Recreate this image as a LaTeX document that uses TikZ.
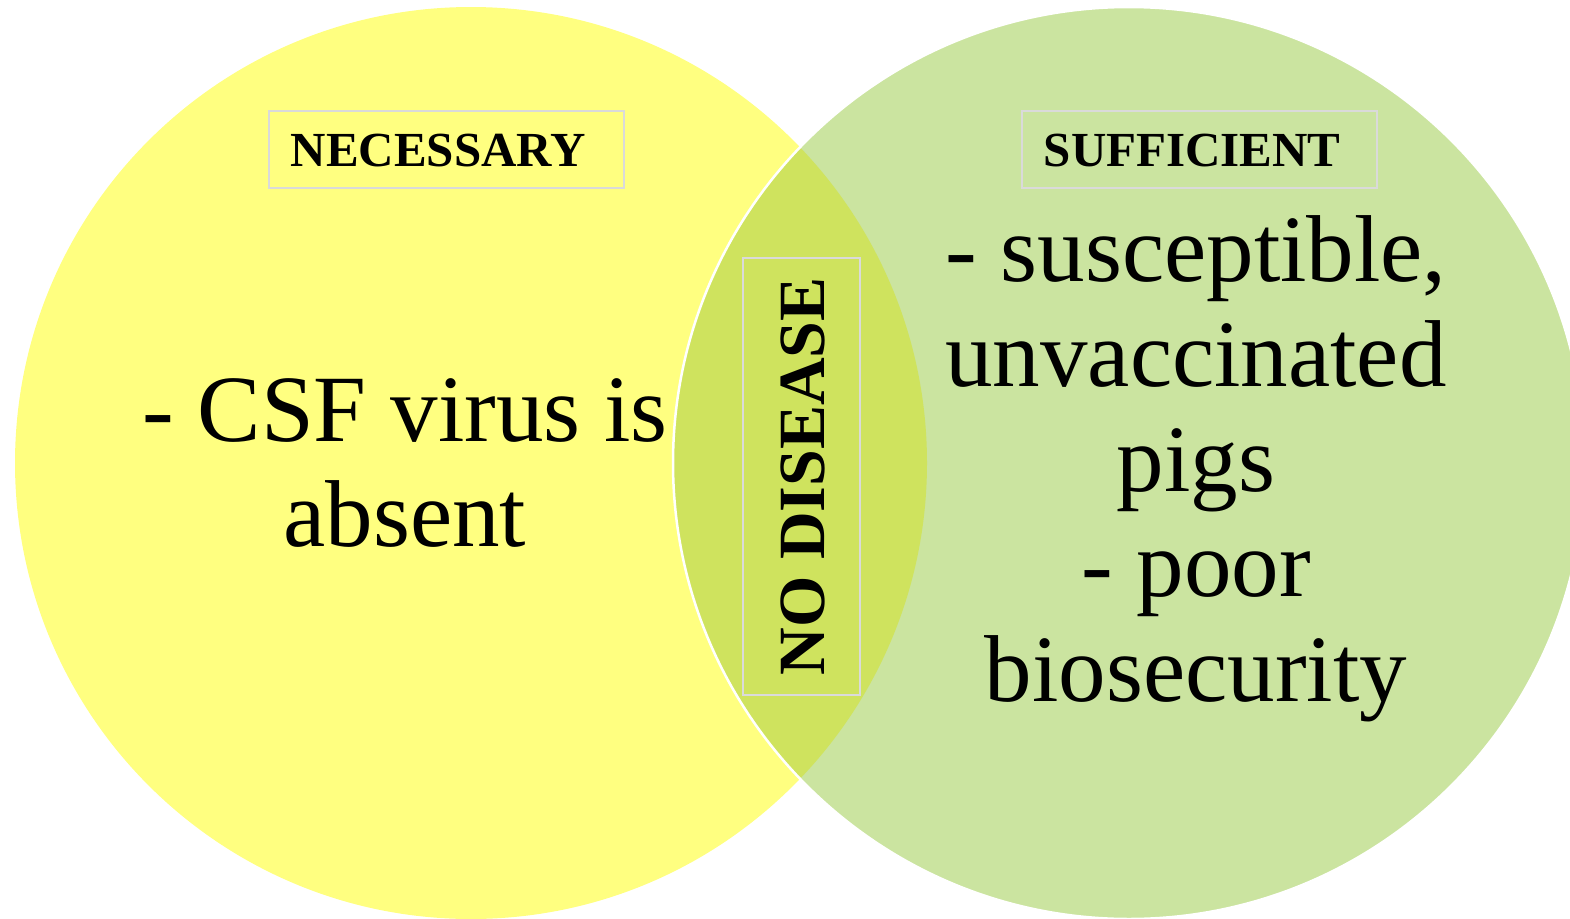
\documentclass[tikz,border=0pt]{standalone}
\usepackage{fontspec}
\setmainfont{Liberation Serif}
\definecolor{cyellow}{RGB}{255,255,128}
\definecolor{cgreen}{RGB}{203,228,160}
\definecolor{clens}{RGB}{207,227,94}
\definecolor{cbox}{RGB}{218,218,218}
\tikzset{
  labelbox/.style={draw=cbox, line width=1.5pt, rectangle, font=\fontsize{49}{56}\selectfont\bfseries,
    text width=311pt, align=left, inner xsep=22pt, inner ysep=0pt, minimum height=77pt,
    text height=33pt, text depth=0pt, anchor=west},
  bigtext/.style={font=\fontsize{95}{105}\selectfont, align=center, inner sep=0pt}
}
\begin{document}
\begin{tikzpicture}[x=1pt,y=-1pt]
\useasboundingbox (0,0) rectangle (1570,918);
\coordinate (cl) at (471,463);
\coordinate (cr) at (1129,463);
\fill[cyellow] (cl) circle[radius=456pt];
\fill[cgreen] (cr) circle[radius=456pt];
\begin{scope}
  \clip (cl) circle[radius=456pt];
  \fill[clens] (cr) circle[radius=456pt];
\end{scope}
\draw[white, line width=2.5pt] (cr) circle[radius=456pt];
\node[labelbox] (nec) at (268,149.5) {NECESSARY};
\node[labelbox] (suf) at (1021,149.5) {SUFFICIENT};
\node[draw=cbox, line width=1.5pt, rotate=90, minimum width=437pt, minimum height=117pt,
  inner sep=0pt, text height=45pt, text depth=0pt, font=\fontsize{66}{75}\selectfont\bfseries]
  (nod) at (801.5,476.5) {NO DISEASE};
\node[bigtext, anchor=base] (csf) at (405,546) {- CSF virus is\\absent};
\node[bigtext, anchor=base] (pig) at (1196,701) {- susceptible,\\unvaccinated\\pigs\\- poor\\biosecurity};
\end{tikzpicture}
\end{document}
